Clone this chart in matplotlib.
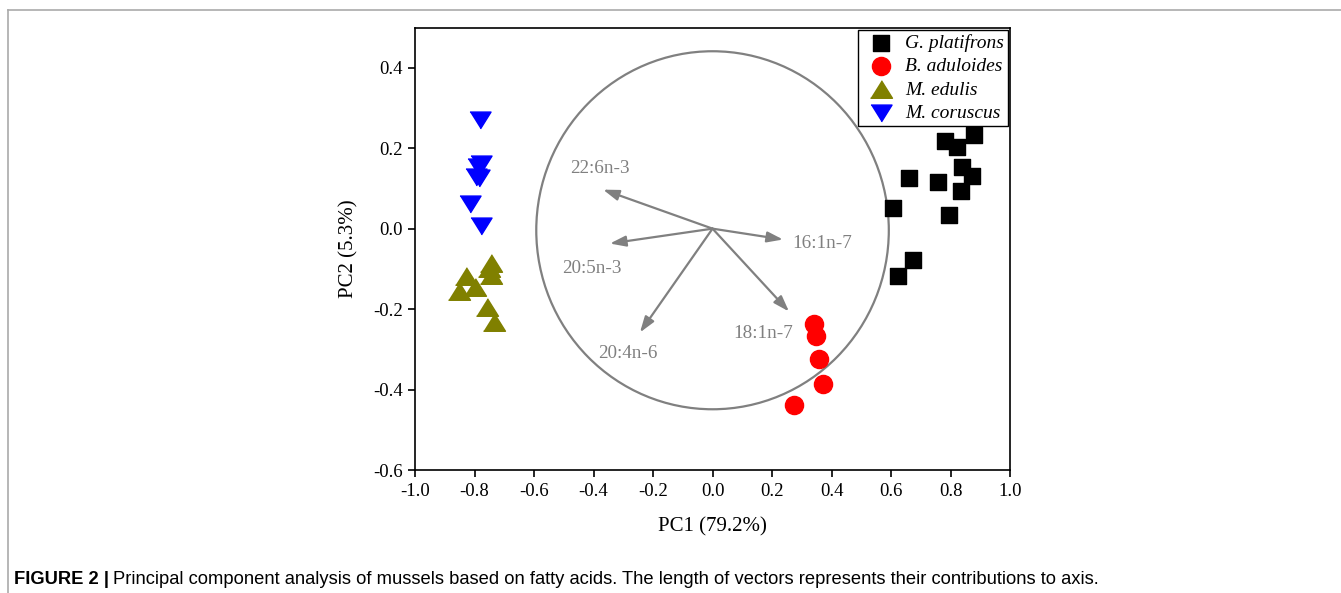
import matplotlib
matplotlib.use("Agg")
import matplotlib.pyplot as plt
from matplotlib.patches import Ellipse
from matplotlib.lines import Line2D

# -------------------------------
# Data
# -------------------------------
gp_x = [0.879, 0.782, 0.822, 0.839, 0.872, 0.758, 0.835, 0.661, 0.795, 0.607, 0.674, 0.624]
gp_y = [0.233, 0.218, 0.203, 0.154, 0.132, 0.117, 0.094, 0.127, 0.035, 0.052, -0.079, -0.117]

ba_x = [0.341, 0.348, 0.358, 0.371, 0.274]
ba_y = [-0.236, -0.268, -0.325, -0.385, -0.439]

me_x = [-0.745, -0.751, -0.745, -0.829, -0.798, -0.852, -0.758, -0.735]
me_y = [-0.086, -0.097, -0.114, -0.117, -0.146, -0.154, -0.194, -0.231]

mc_x = [-0.782, -0.778, -0.788, -0.795, -0.785, -0.815, -0.778]
mc_y = [0.270, 0.161, 0.154, 0.129, 0.127, 0.062, 0.007]

species = ["G. platifrons", "B. aduloides", "M. edulis", "M. coruscus"]

vec_names = ["22:6n-3", "16:1n-7", "20:5n-3", "20:4n-6", "18:1n-7"]
vec_x = [-0.368, 0.237, -0.345, -0.244, 0.257]
vec_y = [0.097, -0.027, -0.037, -0.258, -0.206]

x_ticks = [-1.0, -0.8, -0.6, -0.4, -0.2, 0.0, 0.2, 0.4, 0.6, 0.8, 1.0]
y_ticks = [-0.6, -0.4, -0.2, 0.0, 0.2, 0.4]

xlabel = "PC1 (79.2%)"
ylabel = "PC2 (5.3%)"
caption_bold = "FIGURE 2 |"
caption_text = ("Principal component analysis of mussels based on fatty acids. "
                "The length of vectors represents their contributions to axis.")

# label positions for the vector names
label_pos = [(-0.378, 0.149), (0.368, -0.037), (-0.405, -0.099),
             (-0.284, -0.310), (0.170, -0.261)]

# -------------------------------
# Style
# -------------------------------
plt.rcParams["font.family"] = ["Liberation Serif", "DejaVu Serif"]
plt.rcParams["axes.unicode_minus"] = False

tri_up = [(-1, -0.8), (1, -0.8), (0, 0.8)]
tri_down = [(-1, 0.8), (1, 0.8), (0, -0.8)]

fig = plt.figure(figsize=(13.41, 5.93), dpi=100)
ax = fig.add_axes([0.3095, 0.2074, 0.4437, 0.7462])

ax.scatter(gp_x, gp_y, marker="s", s=135, color="black", label=species[0], zorder=3)
ax.scatter(ba_x, ba_y, marker="o", s=170, color="#ff0000", label=species[1], zorder=3)
ax.scatter(me_x, me_y, marker=tri_up, s=250, color="#808000", label=species[2], zorder=3)
ax.scatter(mc_x, mc_y, marker=tri_down, s=230, color="#0000ff", label=species[3], zorder=3)

# correlation circle
ax.add_patch(Ellipse((0.0, -0.004), 1.185, 0.89, fill=False,
                     edgecolor="#808080", lw=1.6, zorder=1))

# vectors
for name, vx, vy, (lx, ly) in zip(vec_names, vec_x, vec_y, label_pos):
    ax.annotate("", xy=(vx, vy), xytext=(0, 0),
                arrowprops=dict(arrowstyle="-|>,head_length=0.95,head_width=0.32",
                                color="#808080", lw=1.6, shrinkA=0, shrinkB=0),
                zorder=2)
    ax.text(lx, ly, name, fontsize=13.8, color="#808080", ha="center", va="center")

ax.set_xlim(-1.0, 1.0)
ax.set_ylim(-0.6, 0.5)
ax.set_xticks(x_ticks)
ax.set_yticks(y_ticks)
ax.set_xticklabels(["%.1f" % t for t in x_ticks])
ax.set_yticklabels(["%.1f" % t for t in y_ticks])
ax.tick_params(direction="out", length=5, width=1.2, labelsize=13.5, pad=4)
for sp in ax.spines.values():
    sp.set_linewidth(1.2)

ax.set_xlabel(xlabel, fontsize=15, labelpad=13)
ax.set_ylabel(ylabel, fontsize=15, labelpad=10)

leg = ax.legend(loc="upper right", borderaxespad=0.12, fancybox=False,
                framealpha=1, edgecolor="black", prop=dict(style="italic", size=14),
                handletextpad=0.3, labelspacing=0.3, borderpad=0.2,
                handlelength=1.9, scatterpoints=1)
leg.get_frame().set_linewidth(1.0)

# -------------------------------
# Page frame and caption
# -------------------------------
fig.add_artist(Line2D([0.006, 1.0], [0.983, 0.983], transform=fig.transFigure,
                      color="#aaaaaa", lw=1.2))
fig.add_artist(Line2D([0.006, 0.006], [0.983, 0.0], transform=fig.transFigure,
                      color="#aaaaaa", lw=1.2))

cap_font = ["Liberation Sans", "DejaVu Sans"]
t1 = fig.text(0.0104, 0.0236, caption_bold, fontsize=13.2, fontweight="bold",
              family=cap_font, va="center", ha="left")
renderer = fig.canvas.get_renderer()
bb = t1.get_window_extent(renderer=renderer)
x_next = (bb.x1 + 4) / fig.bbox.width
fig.text(x_next, 0.0236, caption_text, fontsize=13.2, family=cap_font,
         va="center", ha="left")

fig.savefig("out.png", dpi=100)
